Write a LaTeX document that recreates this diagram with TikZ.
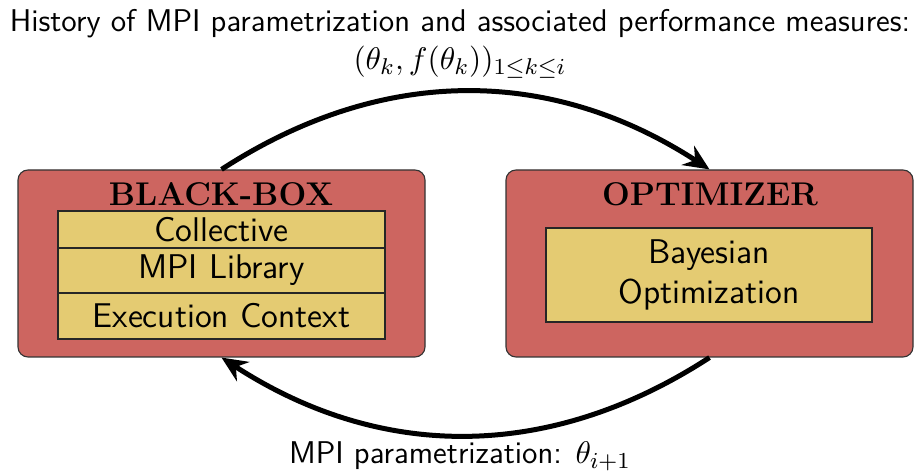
\documentclass[tikz,border=0pt]{standalone}
\usetikzlibrary{arrows.meta}
\definecolor{boxred}{RGB}{205,101,96}
\definecolor{boxyellow}{RGB}{228,203,114}
\begin{document}
\begin{tikzpicture}[x=0.35pt,y=0.35pt,
  outerbox/.style={draw=black!80,line width=0.4pt,fill=boxred,rounded corners=3.5pt,minimum width=142.45pt,minimum height=65.45pt,inner sep=0pt},
  layer/.style={draw=black!85,line width=0.4pt,fill=boxyellow,minimum width=114.45pt,inner sep=0pt,font=\sffamily\fontsize{12}{14}\selectfont},
  title/.style={font=\bfseries\fontsize{11.5}{13}\selectfont},
  txt/.style={font=\sffamily\fontsize{11}{13}\selectfont},
  flow/.style={line width=1.75pt,-{Stealth[length=9pt,width=8pt,inset=3pt]}}]
\useasboundingbox (0,0) rectangle (922,474);
\node[outerbox] (lb) at (221.5,210.5) {};
\node[outerbox] (rb) at (709.5,210.5) {};
\node[title] (lbt) at (221,280) {BLACK-BOX};
\node[title] (rbt) at (710,280) {OPTIMIZER};
\node[layer,minimum height=12.95pt] (l1) at (221.5,244.5) {Collective};
\node[layer,minimum height=15.75pt] (l2) at (221.5,203.5) {MPI Library};
\node[layer,minimum height=16.1pt] (l3) at (221.5,158) {Execution Context};
\node[layer,minimum width=114.1pt,minimum height=32.9pt,align=center] (bo) at (709,199) {Bayesian\\Optimization};
\node[txt] (top) at (460,450) {History of MPI parametrization and associated performance measures:};
\node[txt] (form) at (460,412) {$(\theta_k, f(\theta_k))_{1\leq k\leq i}$};
\node[txt] (bot) at (460,18) {MPI parametrization: $\theta_{i+1}$};
\draw[flow] (lb.north) to[bend left=33] (rb.north);
\draw[flow] (rb.south) to[bend left=33] (lb.south);
\end{tikzpicture}
\end{document}
